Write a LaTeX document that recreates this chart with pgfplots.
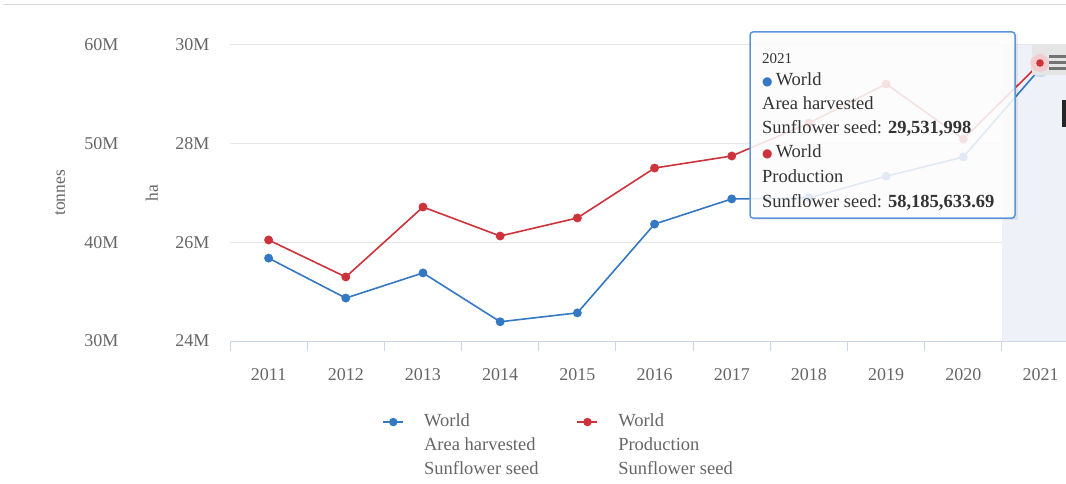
\documentclass[border=0pt]{standalone}
\usepackage{fontspec}
\setmainfont{Liberation Serif}
\newfontfamily\dejavu{DejaVu Sans}
\usepackage{pgfplots}
\pgfplotsset{compat=1.18}
\definecolor{serblue}{RGB}{52,120,195}
\definecolor{serred}{RGB}{204,51,58}
\definecolor{gridgray}{RGB}{230,230,230}
\definecolor{axisgray}{RGB}{204,214,235}
\definecolor{labelgray}{RGB}{102,102,102}
\definecolor{textdark}{RGB}{51,51,51}
\definecolor{bandfill}{RGB}{238,242,248}
\definecolor{tipblue}{RGB}{90,150,215}
\begin{document}
\begin{tikzpicture}
\path[use as bounding box] (0pt,0pt) rectangle (1066pt,483pt);
\draw[gray!30, line width=1.5pt] (3pt,478.5pt) -- (1066pt,478.5pt);
% ---- ha axis (Area harvested) ----
\begin{axis}[
  at={(230pt,142pt)}, anchor=south west,
  width=836pt, height=296pt, scale only axis,
  xmin=-0.5, xmax=10.33, ymin=24, ymax=30,
  xtick={0,...,10},
  xticklabels={2011,2012,2013,2014,2015,2016,2017,2018,2019,2020,2021},
  minor xtick={-0.5,0.5,1.5,2.5,3.5,4.5,5.5,6.5,7.5,8.5,9.5},
  xtick pos=bottom, tick align=outside,
  major tick length=0pt, minor tick length=10pt,
  minor x tick style={draw=axisgray, line width=1pt},
  ytick={24,26,28,30}, yticklabels={24M,26M,28M,30M},
  ytick style={draw=none},
  axis line style={draw=none},
  ymajorgrids, major grid style={draw=gridgray, line width=1pt},
  tick label style={font=\fontsize{18}{21}\selectfont, text=labelgray},
  yticklabel style={anchor=east, xshift=-17pt},
  xticklabel style={yshift=-24pt},
  ylabel={ha},
  every axis y label/.style={at={(axis description cs:-0.0933,0.5)}, rotate=90, anchor=center, font=\fontsize{17.5}{20}\selectfont, text=labelgray},
  clip=false,
]
\fill[bandfill] (axis cs:9.5,24) rectangle (axis cs:10.33,30);
\draw[axisgray, line width=1pt] (rel axis cs:0,0) -- (rel axis cs:1,0);
\addplot[only marks, mark=*, mark size=9pt, serblue!25, mark options={draw=none}] coordinates {(10,29.531998)};
\addplot[serblue, line width=1.6pt, mark=*, mark size=3.6pt] coordinates {
(0,25.68) (1,24.87) (2,25.38) (3,24.39) (4,24.57) (5,26.37) (6,26.88) (7,26.90) (8,27.34) (9,27.73) (10,29.531998)};
\end{axis}
% ---- tonnes axis (Production) ----
\begin{axis}[
  at={(230pt,142pt)}, anchor=south west,
  width=836pt, height=296pt, scale only axis,
  xmin=-0.5, xmax=10.33, ymin=30, ymax=60,
  xtick=\empty,
  ytick={30,40,50,60}, yticklabels={30M,40M,50M,60M},
  ytick style={draw=none},
  axis line style={draw=none},
  tick label style={font=\fontsize{18}{21}\selectfont, text=labelgray},
  yticklabel style={anchor=east, xshift=-108pt},
  ylabel={tonnes},
  every axis y label/.style={at={(axis description cs:-0.2033,0.5)}, rotate=90, anchor=center, font=\fontsize{17.5}{20}\selectfont, text=labelgray},
  legend columns=2,
  legend style={at={(axis description cs:0.1786,-0.215)}, anchor=north west, draw=none, fill=none,
    font=\fontsize{18.5}{24}\selectfont, text=labelgray,
    cells={align=left, anchor=north west},
    /tikz/every odd column/.append style={column sep=18pt},
    /tikz/every even column/.append style={column sep=36pt}},
  legend image code/.code={\path (0pt,3.4pt); \draw[#1, mark=none] (0pt,-11pt) -- (20pt,-11pt); \fill[#1] (10pt,-11pt) circle (3.4pt);},
  clip=false,
]
\addlegendimage{serblue, line width=1.6pt}
\addlegendentry{World\\Area harvested\\Sunflower seed}
\addplot[only marks, mark=*, mark size=10pt, serred!22, mark options={draw=none}, forget plot] coordinates {(10,58.18563369)};
\addplot[serred, line width=1.6pt, mark=*, mark size=3.6pt] coordinates {
(0,40.24) (1,36.49) (2,43.58) (3,40.64) (4,42.47) (5,47.53) (6,48.75) (7,52.09) (8,56.05) (9,50.47) (10,58.18563369)};
\addlegendentry{World\\Production\\Sunflower seed}
\end{axis}
% ---- context button ----
\fill[gray!20] (1032pt,408pt) rectangle (1066pt,438pt);
\fill[serred!25] (1040pt,420pt) circle (9pt);
\fill[serred] (1040pt,420pt) circle (3.8pt);
\foreach \yy in {426,420,414} {\draw[gray!90!black, line width=3pt] (1049pt,\yy pt) -- (1066pt,\yy pt);}
\fill[black!85] (1062pt,356pt) rectangle (1066pt,383pt);
% ---- tooltip ----
\fill[black, opacity=0.07] (752pt,263pt) rectangle (1018pt,449pt);
\draw[tipblue, line width=1.5pt, rounded corners=3pt, fill=white, fill opacity=0.86] (750pt,265pt) rectangle (1015pt,451pt);
\begin{scope}[every node/.style={anchor=base west, inner sep=0pt, text=textdark, font=\fontsize{18.5}{22}\selectfont}]
\node[font=\fontsize{15}{18}\selectfont] at (762pt,419pt) {2021};
\node at (762pt,397pt) {{\dejavu\fontsize{12}{14}\selectfont\textcolor{serblue}{●}}\,World};
\node at (762pt,373pt) {Area harvested};
\node at (762pt,349pt) {Sunflower seed: \textbf{29,531,998}};
\node at (762pt,325pt) {{\dejavu\fontsize{12}{14}\selectfont\textcolor{serred}{●}}\,World};
\node at (762pt,301pt) {Production};
\node at (762pt,276pt) {Sunflower seed: \textbf{58,185,633.69}};
\end{scope}
\end{tikzpicture}
\end{document}
